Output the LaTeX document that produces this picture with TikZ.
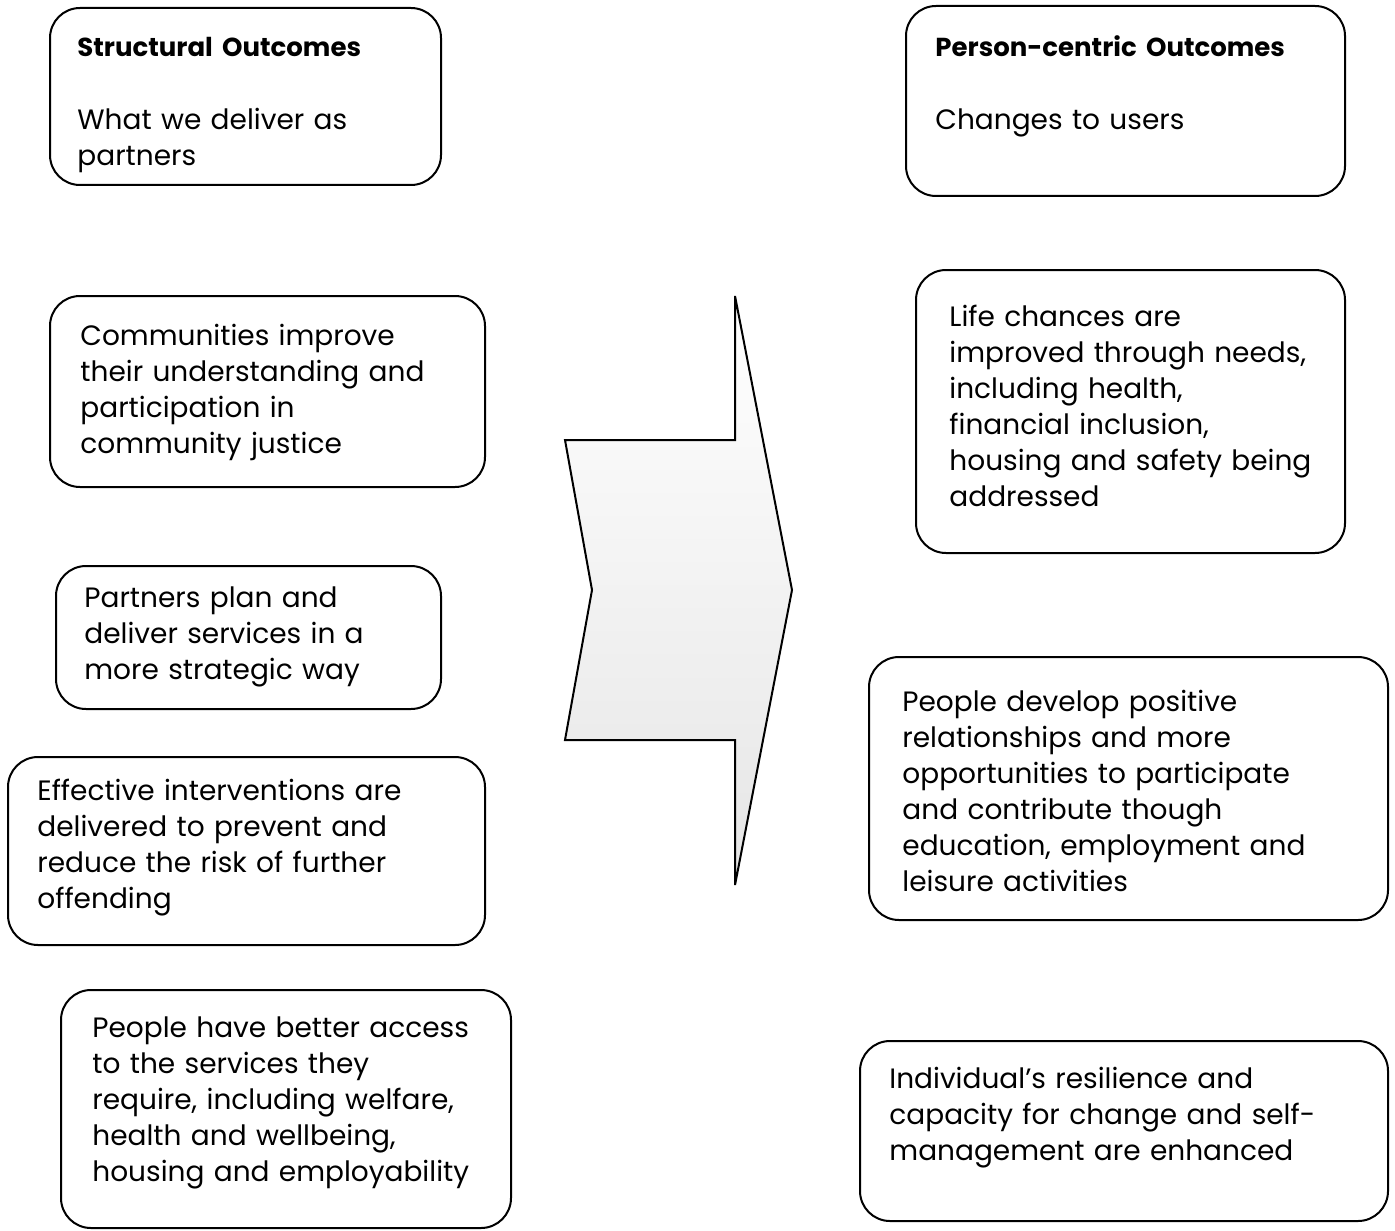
\documentclass[tikz,border=0pt]{standalone}
\usepackage{fontspec}
\setmainfont{Poppins}
\usepackage{tikz}
\usetikzlibrary{positioning,fit}

\begin{document}
\begin{tikzpicture}[x=0.5pt, y=-0.5pt, box/.style = {draw, line width=1pt, rounded corners=15pt, inner sep=0pt}, txt/.style = {anchor=base west, inner sep=0pt, text width=260pt, align=left, font=\fontsize{14}{18}\selectfont}, head/.style = {font=\fontsize{13}{18}\selectfont\bfseries}]
		\useasboundingbox (0,0) rectangle (1395,1230);
		\node[box, fit={(50,8) (441,185)}] (struct) {};
		\node[box, fit={(906,6) (1345,196)}] (person) {};
		\node[box, fit={(50,296) (485,487)}] (comm) {};
		\node[box, fit={(56,566) (441,709)}] (plan) {};
		\node[box, fit={(8,757) (485,945)}] (interv) {};
		\node[box, fit={(61,990) (511,1228)}] (access) {};
		\node[box, fit={(916,270) (1345,553)}] (life) {};
		\node[box, fit={(869,657) (1388,920)}] (relat) {};
		\node[box, fit={(860,1041) (1388,1221)}] (resil) {};
		
		\node[txt] (struct-h) at (77,57) {\textbf{\fontsize{13}{18}\selectfont Structural Outcomes}};
		\node[txt] (struct-t) at (77,130) {What we deliver as\\ partners};
		\node[txt] (person-h) at (935,57) {\textbf{\fontsize{13}{18}\selectfont Person-centric Outcomes}};
		\node[txt] (person-t) at (935,130) {Changes to users};
		\node[txt] (comm-t) at (80,345) {Communities improve\\ their understanding and\\ participation in\\ community justice};
		\node[txt] (plan-t) at (84,607) {Partners plan and\\ deliver services in a\\ more strategic way};
		\node[txt] (interv-t) at (37,800) {Effective interventions are\\ delivered to prevent and\\ reduce the risk of further\\ offending};
		\node[txt] (access-t) at (92,1037) {People have better access\\ to the services they\\ require, including welfare,\\ health and wellbeing,\\ housing and employability};
		\node[txt] (life-t) at (949,326) {Life chances are\\ improved through needs,\\ including health,\\ financial inclusion,\\ housing and safety being\\ addressed};
		\node[txt] (relat-t) at (902,711) {People develop positive\\ relationships and more\\ opportunities to participate\\ and contribute though\\ education, employment and\\ leisure activities};
		\node[txt] (resil-t) at (889,1088) {Individual’s resilience and\\ capacity for change and self-\\ management are enhanced};
		
		\shade[draw, line width=1pt, top color=white, bottom color=gray!20] (735,296) -- (735,440) -- (565,440) -- (592,590) -- (565,740) -- (735,740) -- (735,885) -- (792,590) -- cycle;
	\end{tikzpicture}
\end{document}
